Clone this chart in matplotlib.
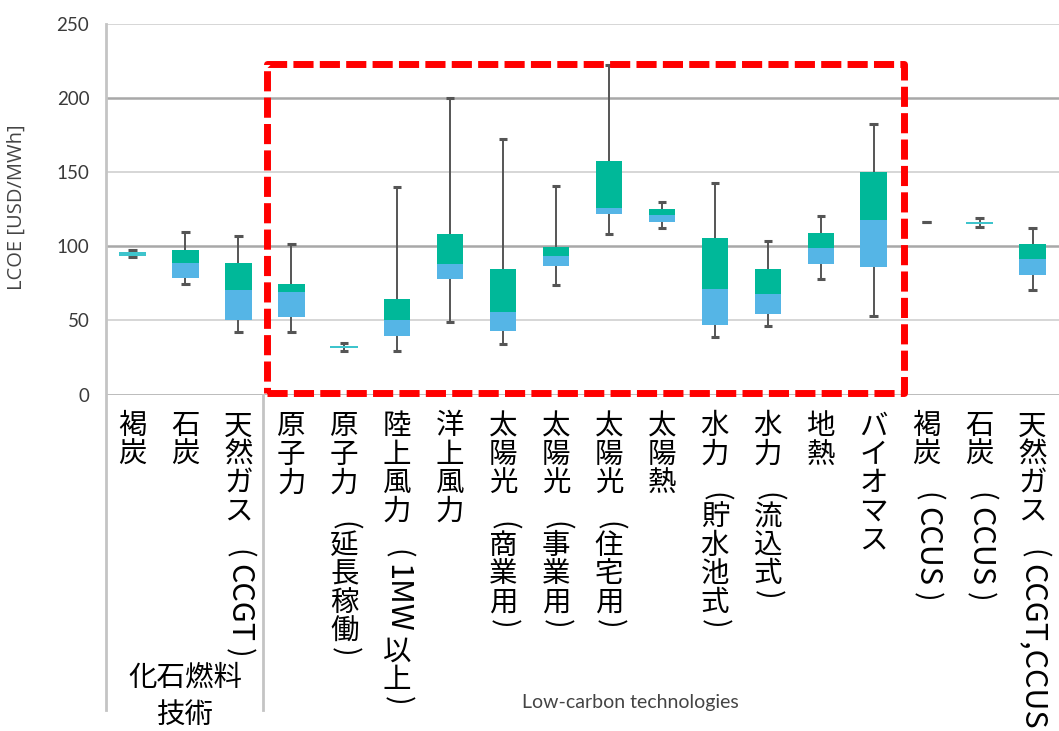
import matplotlib
matplotlib.use('Agg')
import matplotlib.pyplot as plt
from matplotlib.patches import Rectangle
import numpy as np

plt.rcParams['font.family'] = ['Noto Sans CJK JP', 'DejaVu Sans']

# LCOE by technology [USD/MWh]
labels = ['褐炭', '石炭', '天然ガス（CCGT）', '原子力', '原子力（延長稼働）', '陸上風力（1MW以上）',
          '洋上風力', '太陽光（商業用）', '太陽光（事業用）', '太陽光（住宅用）', '太陽熱',
          '水力（貯水池式）', '水力（流込式）', '地熱', 'バイオマス', '褐炭（CCUS）', '石炭（CCUS）',
          '天然ガス（CCGT,CCUS）']
low    = [92.6, 74.4, 42.0, 42.0, 29.6, 29.1, 48.7, 34.0, 73.9, 108.5, 112.1, 38.6, 46.0, 77.7, 53.2, 116.2, 113.0, 70.7]
q1     = [93.5, 78.4, 50.3, 52.1, 31.5, 39.5, 77.9, 42.8, 86.9, 121.6, 116.6, 46.7, 54.1, 88.3, 86.0, 116.2, 115.2, 80.8]
median = [94.8, 88.5, 70.5, 69.0, 32.3, 50.0, 87.8, 55.5, 93.5, 125.8, 121.3, 71.4, 68.0, 99.0, 118.0, 116.2, 115.9, 91.2]
q3     = [96.0, 97.5, 88.5, 74.8, 33.0, 64.4, 108.5, 84.5, 99.7, 157.8, 125.2, 105.8, 84.9, 109.0, 149.9, 116.2, 116.6, 101.8]
high   = [97.4, 109.9, 106.7, 101.8, 34.7, 140.0, 200.2, 172.2, 140.5, 222.0, 129.7, 142.5, 103.8, 120.2, 182.7, 116.2, 118.9, 112.1]
group_fossil = '化石燃料\n技術'
group_low = 'Low-carbon technologies'
yticks = [0, 50, 100, 150, 200, 250]

GREEN = '#00b899'
BLUE = '#55b5e6'
CYAN = '#3ec4cc'
WHISK = '#555555'
LATIN = ['Lato', 'DejaVu Sans']

fig = plt.figure(figsize=(10.59, 7.31), dpi=100)
ax = fig.add_axes([106 / 1059, 336.5 / 731, 1 - 106 / 1059, 370.5 / 731])
x = np.arange(len(labels))

# grid
for v in yticks:
    dark = v in (0, 100, 200)
    ax.axhline(v, color='#a8a8a8' if dark else '#d6d6d6', lw=1.8 if dark else 1.4, zorder=0)

# boxes
w = 0.5
lo, a, m, b, hi = map(np.array, (low, q1, median, q3, high))
ax.vlines(x, lo, a, color=WHISK, lw=1.4, zorder=2)
ax.vlines(x, b, hi, color=WHISK, lw=1.4, zorder=2)
ax.hlines(lo, x - 0.08, x + 0.08, color=WHISK, lw=2.2, zorder=2)
ax.hlines(hi, x - 0.08, x + 0.08, color=WHISK, lw=2.2, zorder=2)
flat = (b - a) < 3
ax.bar(x[~flat], (b - m)[~flat], bottom=m[~flat], width=w, color=GREEN, zorder=3)
ax.bar(x[~flat], (m - a)[~flat], bottom=a[~flat], width=w, color=BLUE, zorder=3)
ax.bar(x[flat], (b - a)[flat], bottom=a[flat], width=w * 1.05, color=CYAN, zorder=3)

ax.set_xlim(-0.5, len(labels) - 0.5)
ax.set_ylim(0, 250)
ax.set_yticks(yticks)
ax.set_xticks([])
ax.tick_params(axis='y', length=0, pad=12, labelsize=13.5, labelcolor='#3a3a3a')
for lab in ax.get_yticklabels():
    lab.set_family(LATIN)
for s in ax.spines.values():
    s.set_visible(False)

ax.set_ylabel('LCOE [USD/MWh]', fontsize=14.5, color='#444444', family=['Open Sans', 'DejaVu Sans'])
ax.yaxis.set_label_coords(-0.083, 0.506)

# separators below the axis
tr = ax.get_xaxis_transform()
for xs, ytop in ((-0.5, 1.0), (2.47, 0.0)):
    ax.plot([xs, xs], [ytop, -0.852], transform=tr, color='#c4c4c4', lw=2, clip_on=False, zorder=1)

# vertical category labels (upright kanji, rotated latin and brackets)
renderer = fig.canvas.get_renderer()
size = 20.5
lsize = 22


def put(xi, s, off, **kw):
    return ax.annotate(s, xy=(xi, 0), xycoords=tr, xytext=(0, -off), textcoords='offset points',
                       ha='center', color='black', annotation_clip=False, **kw)


def vertical_label(xi, text, start=12.75):
    pos = start
    pieces = []
    run = ''
    for ch in text:
        if ord(ch) < 128:
            run += ch
            continue
        if run:
            pieces.append(('r', run))
            run = ''
        pieces.append(('u', ch))
    if run:
        pieces.append(('r', run))
    for kind, s in pieces:
        if s == '（':
            pos += size * 1.2
            put(xi, '(', pos - size * 0.22, va='center', rotation=-90, fontsize=size)
        elif s == '）':
            put(xi, ')', pos + size * 0.22, va='center', rotation=-90, fontsize=size)
            pos += size * 1.2
        elif kind == 'u':
            put(xi, s, pos + size / 2, va='center', fontsize=size)
            pos += size
        else:
            pos += 3
            t = put(xi, s, pos, va='top', rotation=-90, fontsize=lsize)
            pos += t.get_window_extent(renderer).height * 72 / fig.dpi + 3


for xi, lab in zip(x, labels):
    vertical_label(xi, lab)

ax.text(1.0, -0.815, group_fossil, transform=tr, ha='center', va='center',
        fontsize=20.5, linespacing=1.3)
ax.text(9.4, -0.83, group_low, transform=tr, ha='center', va='center',
        fontsize=14, color='#444444', family=LATIN)

# highlight frame
rect = Rectangle((2.55, 0.7), 14.565 - 2.55, 223 - 0.7, fill=False, edgecolor='#ff0000',
                 lw=5, linestyle=(0, (2.9, 0.9)), joinstyle='round', clip_on=False, zorder=5)
ax.add_patch(rect)

fig.savefig('out.png', dpi=100)
